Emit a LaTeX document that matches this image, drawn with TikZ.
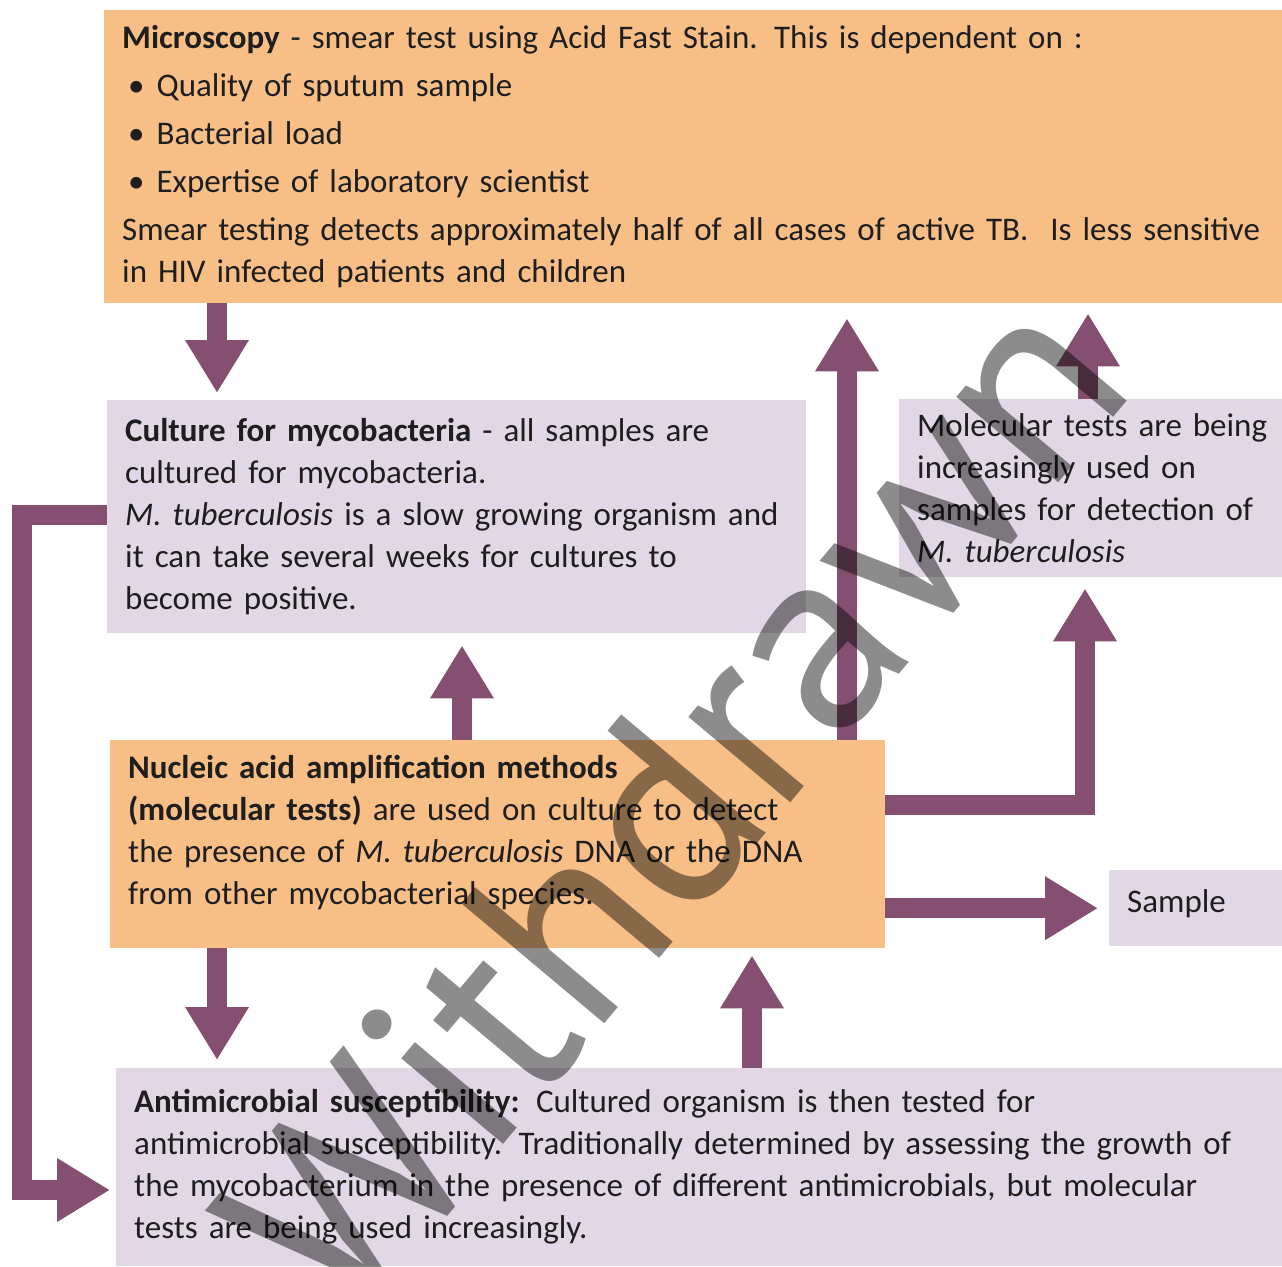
\documentclass[tikz,border=0pt]{standalone}
\usepackage{fontspec}
\setmainfont{Carlito}
\newfontfamily\stampfont{PT Sans}
\usepackage{xcolor}
\usetikzlibrary{arrows.meta}
\usetikzlibrary{calc}

\definecolor{boxorange}{RGB}{247,190,134}
\definecolor{boxlilac}{RGB}{226,216,229}
\definecolor{flowpurple}{RGB}{132,79,112}
\definecolor{inktext}{RGB}{30,30,30}

\begin{document}
\begin{tikzpicture}[x=1pt,y=-1pt,line join=miter]
		\tikzstyle{box}=[anchor=north west, inner xsep=18pt, inner ysep=0pt, align=left, text=inktext, font=\fontsize{33}{42}\selectfont]
		\tikzstyle{orangebox}=[box, fill=boxorange]
		\tikzstyle{lilacbox}=[box, fill=boxlilac]
		\tikzstyle{flow}=[draw=flowpurple, line width=20pt, -{Triangle[length=53pt,width=60pt]}]
		\tikzstyle{stamp}=[rotate=50, text=black, text opacity=0.45, font=\stampfont\fontsize{266}{266}\selectfont]
		\useasboundingbox (0,0) rectangle (1282,1266);
		\clip (0,0) rectangle (1282,1266);
			\node[orangebox, minimum width=1178pt, minimum height=293pt, text width=1142pt] (micro) at (104,10)
				{\textbf{Microscopy} - smear test using Acid Fast Stain. This is dependent on :\\[6pt]
				\hspace*{6pt}\textbullet\hspace{12pt}Quality of sputum sample\\[6pt]
				\hspace*{6pt}\textbullet\hspace{12pt}Bacterial load\\[6pt]
				\hspace*{6pt}\textbullet\hspace{12pt}Expertise of laboratory scientist\\[6pt]
				Smear testing detects approximately half of all cases of active TB.\ \ Is less sensitive\\
				in HIV infected patients and children};
			\node[lilacbox, minimum width=699pt, minimum height=233pt, text width=663pt] (culture) at (107,400)
				{\textbf{Culture for mycobacteria} - all samples are\\
				cultured for mycobacteria.\\
				\textit{M. tuberculosis} is a slow growing organism and\\
				it can take several weeks for cultures to\\
				become positive.};
			\node[lilacbox, minimum width=383pt, minimum height=178pt, text width=366pt] (molec) at (899,399)
				{Molecular tests are being\\
				increasingly used on\\
				samples for detection of\\
				\textit{M. tuberculosis}};
			\node[orangebox, minimum width=775pt, minimum height=208pt, text width=739pt] (naat) at (110,740)
				{\textbf{Nucleic acid amplification methods}\\
				\textbf{(molecular tests)} are used on culture to detect\\
				the presence of \textit{M. tuberculosis} DNA or the DNA\\
				from other mycobacterial species.\par\vspace*{24pt}};
			\node[lilacbox, minimum width=173pt, minimum height=76pt, text width=137pt] (sample) at (1109,870)
				{Sample\par\vspace*{10pt}};
			\node[lilacbox, minimum width=1166pt, minimum height=198pt, text width=1130pt] (amr) at (116,1068)
				{\textbf{Antimicrobial susceptibility:} Cultured organism is then tested for\\
				antimicrobial susceptibility. Traditionally determined by assessing the growth of\\
				the mycobacterium in the presence of different antimicrobials, but molecular\\
				tests are being used increasingly.};

			\draw[flow, shorten >=7pt] ([xshift=110pt]culture.north west |- micro.south) -- ([xshift=110pt]culture.north west);
			\draw[flow, shorten >=12pt] ([xshift=352pt]naat.north west) -- ([xshift=352pt]naat.north west |- culture.south);
			\draw[flow, shorten >=15pt] ([xshift=737pt]naat.north west) -- ([xshift=737pt]naat.north west |- micro.south);
			\draw[flow, shorten >=10pt] ([xshift=189pt]molec.north west) -- ([xshift=189pt]molec.north west |- micro.south);
			\draw[flow, shorten >=11pt] ([yshift=-65pt]naat.north east) -| ([xshift=186pt]molec.south west);
			\draw[flow, shorten >=11pt] (naat.east |- sample.west) -- (sample.west);
			\draw[flow, shorten >=8pt] ([xshift=107pt]naat.south west) -- ([xshift=107pt]naat.south west |- amr.north);
			\draw[flow, shorten >=7pt] ([xshift=636pt]amr.north west) -- ([xshift=636pt]amr.north west |- naat.south);
			\draw[flow, shorten >=6pt] ([yshift=-115pt]culture.north west) -- ++(-85,0) |- ([yshift=-122pt]amr.north west);

			\node[stamp] (withdrawn) at (672,800) {Withdrawn};
\end{tikzpicture}
\end{document}
